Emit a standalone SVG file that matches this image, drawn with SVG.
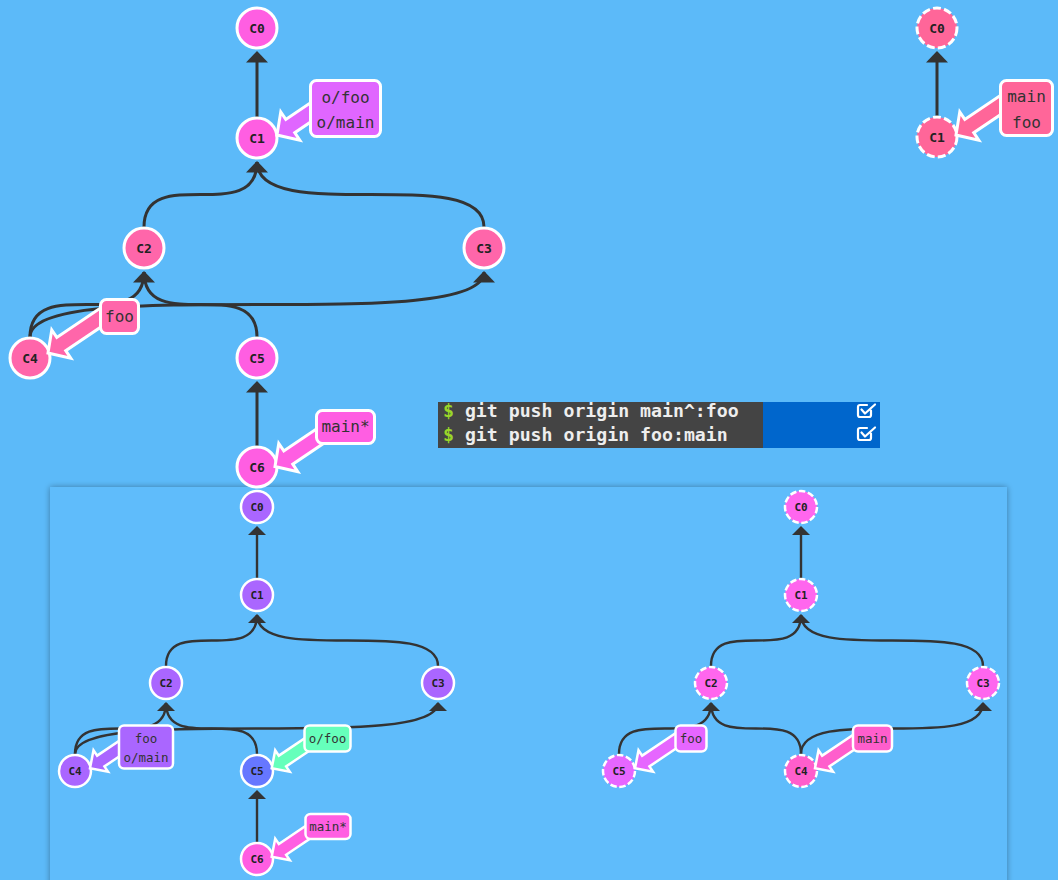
<svg xmlns="http://www.w3.org/2000/svg" width="1058" height="880" viewBox="0 0 1058 880">
<style>
  .edge { fill: none; stroke: #333; stroke-width: 3; }
  .edge.s { stroke-width: 2.4; }
  .head { fill: #333; }
  .node { stroke: #fff; stroke-width: 3; }
  .node.s { stroke-width: 2.5; }
  .node.dash { stroke-dasharray: 8 3.2; }
  .node.s.dash { stroke-dasharray: 6.5 2.6; }
  .nt { font-family: "DejaVu Sans Mono", "Liberation Mono", monospace; font-weight: bold; font-size: 13px; fill: #222; text-anchor: middle; }
  .nt.s { font-size: 11px; }
  .bl { stroke: #fff; stroke-width: 3; stroke-linejoin: miter; }
  .bl.s { stroke-width: 2.5; }
  .lt { font-family: "DejaVu Sans Mono", "Liberation Mono", monospace; font-size: 16px; fill: #333; text-anchor: middle; }
  .lt.s { font-size: 12.5px; }
  .term { font-family: "DejaVu Sans Mono", "Liberation Mono", monospace; font-weight: bold; font-size: 18.2px; fill: #eee; }
  .dollar { fill: #9ad629; }
  .chk { fill: none; stroke: #fff; stroke-width: 2.2; stroke-linecap: round; stroke-linejoin: round; }
</style>
<defs>
  <path id="ah" d="M0,0 L11,11.5 L-11,11.5 Z"/>
  <path id="ahs" d="M0,0 L9,9 L-9,9 Z"/>
  <path id="barrow" d="M0,0 L16,-17 L16,-8 L70,-8 L70,8 L16,8 L16,17 Z"/>
  <path id="barrows" d="M0,0 L13,-13 L13,-6.5 L55,-6.5 L55,6.5 L13,6.5 L13,13 Z"/>
  <filter id="shadow" x="-5%" y="-5%" width="110%" height="110%">
    <feGaussianBlur in="SourceAlpha" stdDeviation="3"/>
    <feOffset dx="0" dy="0" result="b"/>
    <feComponentTransfer><feFuncA type="linear" slope="0.35"/></feComponentTransfer>
    <feMerge><feMergeNode/><feMergeNode in="SourceGraphic"/></feMerge>
  </filter>
</defs>

<rect x="0" y="0" width="1058" height="880" fill="#5cbaf9"/>

<!-- bottom panel -->
<rect id="panel" x="50" y="487" width="957" height="420" fill="#5ebcfb" filter="url(#shadow)"/>

<!-- terminal -->
<g id="terminal">
  <rect x="438" y="402" width="325" height="46" fill="#444"/>
  <rect x="763" y="402" width="117" height="46" fill="#0066cc"/>
  <text class="term" x="443" y="417"><tspan class="dollar">$</tspan> git push origin main^:foo</text>
  <text class="term" x="443" y="441"><tspan class="dollar">$</tspan> git push origin foo:main</text>
  <path class="chk" d="M871,410.5 L871,415 Q871,417 869,417 L860,417 Q858,417 858,415 L858,407 Q858,405 860,405 L867,405 M861.5,409.5 L865,413.5 L875,404.5"/>
  <path class="chk" d="M871,433.5 L871,438 Q871,440 869,440 L860,440 Q858,440 858,438 L858,430 Q858,428 860,428 L867,428 M861.5,432.5 L865,436.5 L875,427.5"/>
</g>

<!-- ===== connectors ===== -->
<g id="connectors">
  <!-- top-left -->
  <path class="edge" d="M257,117 L257,55"/>
  <path class="edge" d="M144,227 C144,162 257,227 257,162"/>
  <path class="edge" d="M484,227 C484,162 257,227 257,162"/>
  <path class="edge" d="M30,337 C30,272 144,337 144,272"/>
  <path class="edge" d="M30,337 C30,272 484,337 484,272"/>
  <path class="edge" d="M257,337 C257,272 144,337 144,272"/>
  <path class="edge" d="M257,446 L257,385"/>
  <use href="#ah" class="head" x="257" y="51"/>
  <use href="#ah" class="head" x="257" y="161"/>
  <use href="#ah" class="head" x="144" y="271"/>
  <use href="#ah" class="head" x="484" y="271"/>
  <use href="#ah" class="head" x="257" y="381"/>
  <!-- top-right -->
  <path class="edge" d="M937,116 L937,55"/>
  <use href="#ah" class="head" x="937" y="51"/>
  <!-- bottom-left -->
  <path class="edge s" d="M257,578 L257,530"/>
  <path class="edge s" d="M166,666 C166,615 257,666 257,615"/>
  <path class="edge s" d="M438,666 C438,615 257,666 257,615"/>
  <path class="edge s" d="M75,754 C75,703 166,754 166,703"/>
  <path class="edge s" d="M75,754 C75,703 438,754 438,703"/>
  <path class="edge s" d="M257,754 C257,703 166,754 166,703"/>
  <path class="edge s" d="M257,842 L257,794"/>
  <use href="#ahs" class="head" x="257" y="526"/>
  <use href="#ahs" class="head" x="257" y="614"/>
  <use href="#ahs" class="head" x="166" y="702"/>
  <use href="#ahs" class="head" x="438" y="702"/>
  <use href="#ahs" class="head" x="257" y="790"/>
  <!-- bottom-right -->
  <path class="edge s" d="M801,578 L801,530"/>
  <path class="edge s" d="M711,666 C711,615 801,666 801,615"/>
  <path class="edge s" d="M983,666 C983,615 801,666 801,615"/>
  <path class="edge s" d="M619,754 C619,703 711,754 711,703"/>
  <path class="edge s" d="M801,754 C801,703 711,754 711,703"/>
  <path class="edge s" d="M801,754 C801,703 983,754 983,703"/>
  <use href="#ahs" class="head" x="801" y="526"/>
  <use href="#ahs" class="head" x="801" y="614"/>
  <use href="#ahs" class="head" x="711" y="702"/>
  <use href="#ahs" class="head" x="983" y="702"/>
</g>

<!-- ===== top-left graph nodes ===== -->
<g id="tl-C0"><circle class="node" cx="257" cy="28" r="20" fill="#ff5ee2"/><text class="nt" x="257" y="32.5">C0</text></g>
<g id="tl-C1"><circle class="node" cx="257" cy="138" r="20" fill="#ff5ee2"/><text class="nt" x="257" y="142.5">C1</text></g>
<g id="tl-C2"><circle class="node" cx="144" cy="248" r="20" fill="#ff66aa"/><text class="nt" x="144" y="252.5">C2</text></g>
<g id="tl-C3"><circle class="node" cx="484" cy="248" r="20" fill="#ff66aa"/><text class="nt" x="484" y="252.5">C3</text></g>
<g id="tl-C4"><circle class="node" cx="30" cy="358" r="20" fill="#ff66aa"/><text class="nt" x="30" y="362.5">C4</text></g>
<g id="tl-C5"><circle class="node" cx="257" cy="358" r="20" fill="#ff5ee2"/><text class="nt" x="257" y="362.5">C5</text></g>
<g id="tl-C6"><circle class="node" cx="257" cy="467" r="20" fill="#ff5ee2"/><text class="nt" x="257" y="471.5">C6</text></g>

<g id="tl-label-origin">
  <use href="#barrow" class="bl" fill="#e066ff" transform="translate(277,135) rotate(-34)"/>
  <rect class="bl" x="310.5" y="80.5" width="70" height="56" rx="6" fill="#e066ff"/>
  <text class="lt" x="345.5" y="103">o/foo</text>
  <text class="lt" x="345.5" y="128">o/main</text>
</g>
<g id="tl-label-foo">
  <use href="#barrow" class="bl" fill="#ff66aa" transform="translate(48,353) rotate(-34)"/>
  <rect class="bl" x="100.5" y="299.5" width="38" height="34" rx="6" fill="#ff66aa"/>
  <text class="lt" x="119.5" y="321.5">foo</text>
</g>
<g id="tl-label-main">
  <use href="#barrow" class="bl" fill="#ff5ee2" transform="translate(275,466.5) rotate(-34)"/>
  <rect class="bl" x="316.5" y="410.5" width="58" height="33" rx="6" fill="#ff5ee2"/>
  <text class="lt" x="345.5" y="432">main*</text>
</g>

<!-- ===== top-right graph ===== -->
<g id="tr-C0"><circle class="node dash" cx="937" cy="28" r="20" fill="#ff6699"/><text class="nt" x="937" y="32.5">C0</text></g>
<g id="tr-C1"><circle class="node dash" cx="937" cy="137" r="20" fill="#ff6699"/><text class="nt" x="937" y="141.5">C1</text></g>
<g id="tr-label">
  <use href="#barrow" class="bl" fill="#ff6699" transform="translate(956,135) rotate(-34)"/>
  <rect class="bl" x="1000.5" y="80.5" width="52" height="55" rx="6" fill="#ff6699"/>
  <text class="lt" x="1026.5" y="102">main</text>
  <text class="lt" x="1026.5" y="127.5">foo</text>
</g>

<!-- ===== bottom-left graph ===== -->
<g id="bl-C0"><circle class="node s" cx="257" cy="507" r="16" fill="#aa66ff"/><text class="nt s" x="257" y="511">C0</text></g>
<g id="bl-C1"><circle class="node s" cx="257" cy="595" r="16" fill="#aa66ff"/><text class="nt s" x="257" y="599">C1</text></g>
<g id="bl-C2"><circle class="node s" cx="166" cy="683" r="16" fill="#aa66ff"/><text class="nt s" x="166" y="687">C2</text></g>
<g id="bl-C3"><circle class="node s" cx="438" cy="683" r="16" fill="#aa66ff"/><text class="nt s" x="438" y="687">C3</text></g>
<g id="bl-C4"><circle class="node s" cx="75" cy="771" r="16" fill="#aa66ff"/><text class="nt s" x="75" y="775">C4</text></g>
<g id="bl-C5"><circle class="node s" cx="257" cy="771" r="16" fill="#6677ff"/><text class="nt s" x="257" y="775">C5</text></g>
<g id="bl-C6"><circle class="node s" cx="257" cy="859" r="16" fill="#ff5ee2"/><text class="nt s" x="257" y="863">C6</text></g>

<g id="bl-label-foo">
  <use href="#barrows" class="bl s" fill="#aa66ff" transform="translate(90,768.3) rotate(-34)"/>
  <rect class="bl s" x="119" y="725.5" width="54" height="43" rx="5" fill="#aa66ff"/>
  <text class="lt s" x="146" y="742.5">foo</text>
  <text class="lt s" x="146" y="762">o/main</text>
</g>
<g id="bl-label-ofoo">
  <use href="#barrows" class="bl s" fill="#66ffbb" transform="translate(271.7,768.3) rotate(-34)"/>
  <rect class="bl s" x="304.5" y="725.5" width="46" height="26" rx="5" fill="#66ffbb"/>
  <text class="lt s" x="327.5" y="743">o/foo</text>
</g>
<g id="bl-label-main">
  <use href="#barrows" class="bl s" fill="#ff5ee2" transform="translate(271.7,856.7) rotate(-34)"/>
  <rect class="bl s" x="305.5" y="814" width="45" height="25" rx="5" fill="#ff5ee2"/>
  <text class="lt s" x="328" y="831">main*</text>
</g>

<!-- ===== bottom-right graph ===== -->
<g id="br-C0"><circle class="node s dash" cx="801" cy="507" r="16" fill="#ff66ee"/><text class="nt s" x="801" y="511">C0</text></g>
<g id="br-C1"><circle class="node s dash" cx="801" cy="595" r="16" fill="#ff66ee"/><text class="nt s" x="801" y="599">C1</text></g>
<g id="br-C2"><circle class="node s dash" cx="711" cy="683" r="16" fill="#ff66ee"/><text class="nt s" x="711" y="687">C2</text></g>
<g id="br-C3"><circle class="node s dash" cx="983" cy="683" r="16" fill="#ff66ee"/><text class="nt s" x="983" y="687">C3</text></g>
<g id="br-C5"><circle class="node s dash" cx="619" cy="771" r="16" fill="#e666ff"/><text class="nt s" x="619" y="775">C5</text></g>
<g id="br-C4"><circle class="node s dash" cx="801" cy="771" r="16" fill="#ff5ecc"/><text class="nt s" x="801" y="775">C4</text></g>

<g id="br-label-foo">
  <use href="#barrows" class="bl s" fill="#e666ff" transform="translate(635,768.3) rotate(-34)"/>
  <rect class="bl s" x="675.5" y="725.5" width="31" height="26" rx="5" fill="#e666ff"/>
  <text class="lt s" x="691" y="743">foo</text>
</g>
<g id="br-label-main">
  <use href="#barrows" class="bl s" fill="#ff5ecc" transform="translate(815,768.3) rotate(-34)"/>
  <rect class="bl s" x="853" y="725.5" width="39" height="26" rx="5" fill="#ff5ecc"/>
  <text class="lt s" x="872.5" y="743">main</text>
</g>
</svg>
